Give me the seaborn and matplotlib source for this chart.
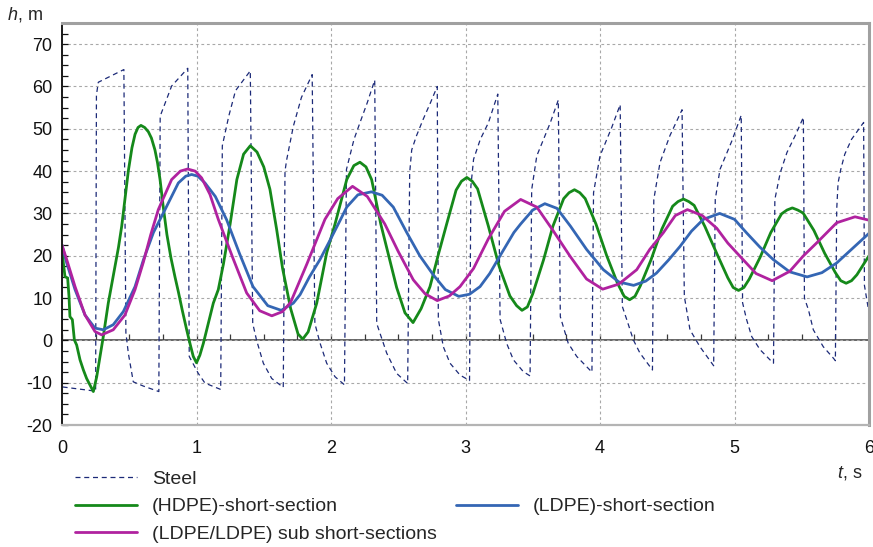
import numpy as np
import matplotlib
matplotlib.use("Agg")
import matplotlib.pyplot as plt
from matplotlib.ticker import MultipleLocator
from matplotlib.lines import Line2D
import seaborn as sns

sns.set_theme(style="white")
plt.rcParams["font.family"] = ["Liberation Sans", "DejaVu Sans"]
plt.rcParams["mathtext.fontset"] = "custom"
plt.rcParams["mathtext.rm"] = "Liberation Sans"
plt.rcParams["mathtext.it"] = "Liberation Sans:italic"
plt.rcParams["axes.unicode_minus"] = False

# ---------------------------------------------
# data (t in s, h in m)
# ---------------------------------------------
steel_t = [0, 0.002, 0.25, 0.256, 0.27, 0.46, 0.475, 0.493, 0.53, 0.605, 0.72,
           0.73, 0.778, 0.815, 0.935, 0.946, 1.013, 1.063, 1.18,
           1.192, 1.24, 1.29, 1.40, 1.418, 1.447, 1.497, 1.559, 1.645,
           1.658, 1.67, 1.72, 1.78, 1.86, 1.88, 1.918, 1.968, 2.03, 2.10,
           2.115, 2.171, 2.216, 2.27, 2.325, 2.34, 2.364, 2.414, 2.488, 2.57,
           2.585, 2.60, 2.635, 2.686, 2.74, 2.79, 2.798, 2.835, 2.885, 2.959, 3.03,
           3.04, 3.06, 3.11, 3.17, 3.24, 3.257, 3.306, 3.356, 3.43, 3.48,
           3.492, 3.53, 3.58, 3.63, 3.69, 3.705, 3.764, 3.827, 3.90, 3.94,
           3.952, 4.00, 4.087, 4.15, 4.166, 4.199, 4.248, 4.297, 4.39,
           4.40, 4.446, 4.52, 4.61, 4.627, 4.669, 4.743, 4.845,
           4.857, 4.892, 4.98, 5.05, 5.06, 5.09, 5.128, 5.19, 5.264, 5.29,
           5.30, 5.34, 5.39, 5.45, 5.512, 5.52, 5.55, 5.586, 5.66, 5.735, 5.75,
           5.76, 5.77, 5.79, 5.82, 5.87, 5.96, 5.966, 6.0]
steel_h = [22, -11, -12, 58, 61, 64, 1.8, -3, -9.8, -10.8, -12.1,
           53, 57, 60.1, 64.3, -3.8, -7.8, -10.1, -11.6,
           46, 53, 59, 63.7, 4, 0, -5.4, -9, -11.1,
           40, 42.6, 50.6, 57.4, 62.8, 4, -0.6, -5.4, -8.6, -10.5,
           40.4, 47.5, 51.5, 56.2, 61.5, 4, 1.7, -3, -7.8, -10.2,
           39.6, 45, 48.3, 52.3, 56.2, 60, 5, -1.5, -5.4, -8.2, -9.5,
           36.4, 42.8, 47.5, 51.4, 58.2, 5, -0.7, -4.6, -7.4, -8.4,
           35.6, 43.6, 47.5, 51.4, 56.8, 5.6, -0.7, -3.8, -6.2, -7.5,
           34.9, 43.6, 50.3, 55.7, 8, 4.9, 0.1, -3, -7,
           33.3, 42, 48.4, 54.5, 10.4, 2.5, -1.5, -6,
           33.3, 40.4, 47.1, 53.2, 8.9, 4.9, 0.9, -2.2, -4.6, -5.4,
           33.3, 39.6, 44.4, 48.3, 52.7, 10, 7.2, 2.5, -1.5, -4.2, -4.8,
           31, 37.2, 40.4, 44, 47.5, 51.5, 13, 6.5]

hdpe_t = [0, 0.01, 0.022, 0.042, 0.052, 0.059, 0.077, 0.092, 0.109, 0.134,
          0.159, 0.183, 0.233, 0.258, 0.283, 0.307, 0.344, 0.394, 0.42, 0.444,
          0.47, 0.493, 0.52, 0.543, 0.565, 0.587, 0.615, 0.642, 0.665, 0.691,
          0.71, 0.729, 0.753, 0.78, 0.81, 0.84, 0.865, 0.895, 0.927, 0.955,
          0.976, 1.0, 1.025, 1.051, 1.088, 1.125, 1.162, 1.20, 1.25, 1.30,
          1.35, 1.40, 1.45, 1.50, 1.546, 1.596, 1.64, 1.70, 1.755, 1.79,
          1.83, 1.894, 1.968, 2.03, 2.117, 2.17, 2.215, 2.26, 2.302, 2.37,
          2.488, 2.55, 2.61, 2.67, 2.736, 2.80, 2.86, 2.93, 2.97, 3.01,
          3.05, 3.09, 3.17, 3.25, 3.33, 3.38, 3.42, 3.46, 3.50, 3.58,
          3.65, 3.73, 3.77, 3.81, 3.85, 3.89, 3.97, 4.05, 4.13, 4.18,
          4.22, 4.26, 4.30, 4.38, 4.46, 4.54, 4.58, 4.62, 4.66, 4.70,
          4.78, 4.87, 4.95, 4.99, 5.03, 5.07, 5.11, 5.19, 5.27, 5.35,
          5.39, 5.43, 5.47, 5.51, 5.59, 5.67, 5.75, 5.79, 5.83, 5.87,
          5.91, 6.0]
hdpe_h = [22.5, 18.3, 15.1, 14.7, 10.4, 5.6, 4.9, 0.1, -1.1, -4.6,
          -7, -9, -12.1, -8.6, -3.8, 0.9, 8.8, 17.5, 22, 27,
          34, 40, 45.5, 48.7, 50.3, 50.8, 50.3, 49.3, 47.8, 45,
          42, 38, 31.5, 25, 19.5, 15, 11.5, 7, 2.5, -1.2,
          -3.8, -5.3, -3.5, -0.7, 4.1, 8.8, 12, 18, 27.5, 38,
          44, 46, 44.5, 41, 35.7, 26.2, 17, 7.5, 1.5, 0.3,
          2, 8.8, 20.7, 27.5, 38, 41.3, 42.1, 41, 38, 27.5,
          12.5, 6.5, 4.2, 7.5, 12.7, 20.5, 27.5, 35.5, 37.6, 38.5,
          37.6, 35.8, 27, 17.5, 10.5, 8.2, 7.1, 7.9, 11, 19,
          27, 33.5, 34.9, 35.6, 34.9, 33.5, 27.5, 20, 13.5, 10.4,
          9.6, 10.4, 12.9, 19.1, 26.3, 31.7, 32.8, 33.4, 32.8, 31.9,
          26.9, 20.4, 14.8, 12.5, 11.8, 12.5, 14.5, 19.6, 25.5, 29.9,
          30.8, 31.3, 30.8, 30.1, 26.0, 20.6, 16.0, 14.1, 13.5, 14.1,
          15.5, 20]

ldpe_t = [0, 0.035, 0.097, 0.171, 0.245, 0.307, 0.381, 0.456, 0.543, 0.605,
          0.68, 0.766, 0.865, 0.92, 0.964, 1.01, 1.063, 1.14, 1.224, 1.32,
          1.42, 1.53, 1.63, 1.72, 1.77, 1.84, 1.918, 1.99, 2.067, 2.117,
          2.20, 2.30, 2.38, 2.463, 2.563, 2.66, 2.76, 2.85, 2.95, 3.03,
          3.108, 3.18, 3.257, 3.36, 3.41, 3.50, 3.59, 3.68, 3.78, 3.90,
          4.025, 4.14, 4.25, 4.34, 4.42, 4.51, 4.595, 4.68, 4.768, 4.89,
          5.00, 5.09, 5.19, 5.288, 5.41, 5.54, 5.65, 5.76, 5.88, 6.0]
ldpe_h = [22.5, 18.3, 12, 6, 2.9, 2.5, 3.7, 6.8, 12.7, 19,
          25.5, 30.9, 37.2, 38.8, 39.2, 38.8, 37.2, 34, 28.5, 20.5,
          12.7, 8.2, 7.1, 8.8, 10.8, 15, 19.1, 23.5, 28.3, 31.5,
          34.4, 35.1, 34.3, 31.5, 25.5, 20, 15.5, 12, 10.4, 10.9,
          12.7, 15.8, 20, 25.5, 27.5, 30.8, 32.3, 31.2, 27, 21.5,
          16.7, 13.8, 13, 14, 15.9, 19, 22.2, 25.8, 28.6, 30,
          28.6, 25.4, 22, 19.1, 16.2, 15, 16, 18.3, 21.8, 25.3]

sub_t = [0, 0.035, 0.097, 0.171, 0.245, 0.295, 0.381, 0.468, 0.543, 0.605,
         0.66, 0.716, 0.815, 0.88, 0.934, 0.99, 1.038, 1.10, 1.162, 1.27,
         1.373, 1.47, 1.56, 1.64, 1.70, 1.82, 1.955, 2.05, 2.16, 2.27,
         2.40, 2.50, 2.612, 2.70, 2.79, 2.88, 2.959, 3.06, 3.17, 3.29,
         3.41, 3.53, 3.65, 3.777, 3.90, 4.02, 4.14, 4.273, 4.37, 4.47,
         4.56, 4.65, 4.76, 4.868, 4.95, 5.04, 5.16, 5.28, 5.41, 5.51,
         5.61, 5.76, 5.896, 6.0]
sub_h = [22.5, 19.1, 12.7, 6, 2.1, 1.3, 2.5, 6, 12, 18.5,
         25, 30.9, 38, 40, 40.5, 40, 38.4, 34.5, 28.6, 19.5,
         11.2, 7, 5.8, 6.8, 9, 18, 28.6, 33.5, 36.4, 34,
         27.5, 21, 14.3, 11, 9.4, 10.5, 12.7, 17, 24, 30.5,
         33.3, 31.5, 26, 19.9, 14.5, 12.1, 13.3, 16.7, 21.5, 25.4,
         29.5, 30.9, 29.5, 26.5, 23, 19.9, 15.8, 14.1, 16.3, 19.9,
         23, 27.8, 29.2, 28.4]

labels = ["Steel", "(HDPE)-short-section", "(LDPE)-short-section",
          "(LDPE/LDPE) sub short-sections"]

STEEL = "#1c2a78"
GREEN = "#15891a"
BLUE = "#3466b4"
MAGENTA = "#b0229f"

fig = plt.figure(figsize=(8.73, 5.47), dpi=100)
ax = fig.add_axes([62 / 873, 122 / 547, 807 / 873, 402 / 547])

#----------------------------------------------
# curves
#----------------------------------------------
sns.lineplot(x=steel_t, y=steel_h, estimator=None, sort=False, ax=ax,
             color=STEEL, linewidth=0.9, linestyle=(0, (4, 3)))
sns.lineplot(x=hdpe_t, y=hdpe_h, estimator=None, sort=False, ax=ax,
             color=GREEN, linewidth=2.0)
sns.lineplot(x=ldpe_t, y=ldpe_h, estimator=None, sort=False, ax=ax,
             color=BLUE, linewidth=2.0)
sns.lineplot(x=sub_t, y=sub_h, estimator=None, sort=False, ax=ax,
             color=MAGENTA, linewidth=2.0)
if ax.get_legend() is not None:
    ax.get_legend().remove()

#----------------------------------------------
# axes styling
#----------------------------------------------
ax.set_xlim(0, 6)
ax.set_ylim(-20, 75)
ax.xaxis.set_major_locator(MultipleLocator(1))
ax.yaxis.set_major_locator(MultipleLocator(10))
ax.yaxis.set_minor_locator(MultipleLocator(2.5))
ax.set_xlabel("")
ax.set_ylabel("")

ax.set_axisbelow(True)
ax.grid(True, which="major", color="#a8a8a8", linestyle=(0, (2.5, 2.5)),
        linewidth=0.8)

ax.tick_params(axis="x", which="both", length=0, pad=11, labelsize=13,
               colors="#111111")
ax.tick_params(axis="y", which="both", direction="in", length=4.5, width=0.9,
               left=True, pad=7, labelsize=13, colors="#111111")

for side in ["top", "right"]:
    ax.spines[side].set_color("#a0a0a0")
    ax.spines[side].set_linewidth(2.2)
ax.spines["bottom"].set_color("#b4b4b4")
ax.spines["bottom"].set_linewidth(1.6)
ax.spines["left"].set_color("#1a1a1a")
ax.spines["left"].set_linewidth(1.4)

# zero line with small ticks every 0.25 s
zero = ax.secondary_xaxis(20 / 95)
zero.xaxis.set_major_locator(MultipleLocator(0.25))
zero.tick_params(axis="x", direction="in", length=4, width=0.9,
                 color="#3a3a3a", labelbottom=False, labeltop=False)
zero.spines["bottom"].set_color("#3a3a3a")
zero.spines["bottom"].set_linewidth(1.1)

fig.text(7 / 873, 1 - 14 / 547, "$h$, m", fontsize=13, ha="left", va="center")
fig.text(862 / 873, 1 - 473 / 547, "$t$, s", fontsize=13, ha="right",
         va="center")

#----------------------------------------------
# legend below the plot
#----------------------------------------------
lines = ax.get_lines()
blank = Line2D([], [], linestyle="none")
handles = [lines[0], lines[1], lines[3], blank, lines[2], blank]
names = [labels[0], labels[1], labels[3], "", labels[2], ""]
fig.legend(handles, names, ncol=2, loc="upper left",
           bbox_to_anchor=(75 / 873, 1 - 470 / 547), frameon=False,
           fontsize=14, handlelength=3.2, handletextpad=0.77,
           columnspacing=0.95, labelspacing=0.52, borderpad=0,
           borderaxespad=0)

fig.savefig("out.png", dpi=100)
